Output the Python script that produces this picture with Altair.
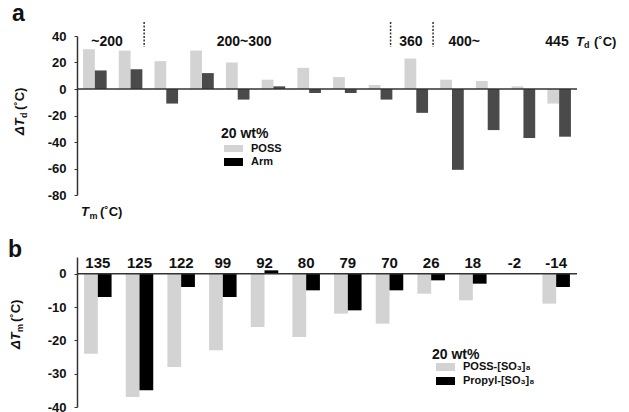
import altair as alt
import pandas as pd

FONT = "Liberation Sans"
TXT = "#111111"
AX = "#333333"

# ---------------- Panel a data ----------------
td_groups = list(range(14))
poss_a = [30, 29, 21, 29, 20, 7, 16, 9, 3, 23, 7, 6, 2, -11]
arm_a = [14, 15, -11, 12, -8, 2, -3, -3, -8, -18, -61, -31, -37, -36]
series_a = ["POSS", "Arm"]
colors_a = ["#d3d3d3", "#4a4a4a"]
legend_swatch_a = ["#d3d3d3", "#000000"]
yticks_a = [-80, -60, -40, -20, 0, 20, 40]

region_labels = ["~200", "200~300", "360", "400~", "445"]
region_pos = [0.34, 4.18, 8.85, 10.34, 12.94]
divider_pos = [1.38, 8.28, 9.47]

# ---------------- Panel b data ----------------
tm_groups = list(range(12))
tm_labels = ["135", "125", "122", "99", "92", "80", "79", "70", "26", "18", "-2", "-14"]
poss_b = [-24, -37, -28, -23, -16, -19, -12, -15, -6, -8, 0, -9]
propyl_b = [-7, -35, -4, -7, 1, -5, -11, -5, -2, -3, 0, -4]
series_b = ["POSS-[SO\u2083]\u2088", "Propyl-[SO\u2083]\u2088"]
colors_b = ["#d3d3d3", "#000000"]
yticks_b = [-40, -30, -20, -10, 0]

BAR_W = 0.33  # fraction of one group step per bar


def label(text, x, y, size, weight="bold", style="normal", angle=0,
          align="left", baseline="alphabetic"):
    return alt.Chart(pd.DataFrame({"t": [text]})).mark_text(
        align=align, baseline=baseline, font=FONT, fontSize=size,
        fontWeight=weight, fontStyle=style, angle=angle, color=TXT
    ).encode(text="t:N", x=alt.value(x), y=alt.value(y))


def swatch(color, x, x2, y, y2):
    return alt.Chart(pd.DataFrame({"s": [0]})).mark_rect(color=color).encode(
        x=alt.value(x), x2=alt.value(x2), y=alt.value(y), y2=alt.value(y2))


def yaxis(values):
    return alt.Axis(values=values, title=None, grid=False, domainColor=AX,
                    domainWidth=1.5, tickColor=AX, tickSize=3, tickWidth=1,
                    labelFont=FONT, labelFontSize=13, labelFontWeight="bold",
                    labelColor=TXT, labelPadding=8, labelOverlap=False,
                    labelExpr="datum.value + ''")


def xscale(n):
    return alt.Scale(domain=[-0.5, n - 0.5], nice=False, zero=False)


def grouped_bars(groups, s1, s2, names, colors, dom, ticks):
    n = len(groups)
    df = pd.DataFrame({"idx": groups * 2,
                       "series": [names[0]] * n + [names[1]] * n,
                       "value": s1 + s2})
    return alt.Chart(df).transform_calculate(
        x0=f"datum.idx + (datum.series == '{names[0]}' ? -{BAR_W} : 0)",
        x1=f"datum.idx + (datum.series == '{names[0]}' ? 0 : {BAR_W})",
    ).mark_bar().encode(
        x=alt.X("x0:Q", axis=None, scale=xscale(n)),
        x2="x1:Q",
        y=alt.Y("value:Q", scale=alt.Scale(domain=dom, nice=False, zero=False),
                axis=yaxis(ticks)),
        y2=alt.datum(0),
        color=alt.Color("series:N", sort=names,
                        scale=alt.Scale(domain=names, range=colors), legend=None),
    )


def zero_rule(ticks):
    return alt.Chart(pd.DataFrame({"v": [0]})).mark_rule(
        color=AX, strokeWidth=1.5).encode(y=alt.Y("v:Q", axis=yaxis(ticks)))


# ---------------- Panel a ----------------
bars_a = grouped_bars(td_groups, poss_a, arm_a, series_a, colors_a,
                      [-80, 40], yticks_a)

dividers = alt.Chart(pd.DataFrame({"pos": divider_pos})).mark_rule(
    color=AX, strokeWidth=1.5, strokeDash=[2, 1.5]).encode(
    x=alt.X("pos:Q", scale=xscale(14), axis=None),
    y=alt.value(-14), y2=alt.value(11))
regions = alt.Chart(pd.DataFrame({"pos": region_pos, "t": region_labels})).mark_text(
    align="center", baseline="alphabetic", font=FONT, fontSize=14,
    fontWeight="bold", color=TXT).encode(
    x=alt.X("pos:Q", scale=xscale(14), axis=None), y=alt.value(10), text="t:N")

panel_a = alt.layer(
    bars_a, zero_rule(yticks_a), dividers, regions,
    label("a", -65, -15, 23),
    # y title  ΔTd (˚C)
    label("\u0394T", -53.5, 99, 13, style="italic", angle=270),
    label("d", -50.5, 82, 9, angle=270),
    label("(\u02daC)", -53.5, 74, 13, angle=270),
    # Td (˚C) on the right
    label("T", 499, 9.5, 13, style="italic"),
    label("d", 507, 12, 9),
    label("(\u02daC)", 517, 9.5, 13),
    # Tm (˚C) bottom left
    label("T", 4, 180, 13, style="italic"),
    label("m", 12.5, 183, 9),
    label("(\u02daC)", 23, 180, 13),
    # legend
    label("20 wt%", 144, 102, 14),
    swatch(legend_swatch_a[0], 147, 166, 109, 116),
    swatch(legend_swatch_a[1], 147, 166, 122, 130),
    label(series_a[0], 174, 112.5, 11, baseline="middle"),
    label(series_a[1], 174, 126, 11, baseline="middle"),
).properties(width=500, height=159)

# ---------------- Panel b ----------------
bars_b = grouped_bars(tm_groups, poss_b, propyl_b, series_b, colors_b,
                      [-40, 5], yticks_b)

toplabels = alt.Chart(pd.DataFrame({"idx": tm_groups, "t": tm_labels})).mark_text(
    align="center", baseline="alphabetic", font=FONT, fontSize=15,
    fontWeight="bold", color=TXT).encode(
    x=alt.X("idx:Q", axis=None, scale=xscale(12)), y=alt.value(11), text="t:N")

panel_b = alt.layer(
    bars_b, zero_rule(yticks_b), toplabels,
    label("b", -69, 0, 23),
    label("\u0394T", -57.5, 92, 13, style="italic", angle=270),
    label("m", -54.5, 75, 9, angle=270),
    label("(\u02daC)", -57.5, 65, 13, angle=270),
    label("20 wt%", 355, 102, 14),
    swatch(colors_b[0], 359, 378, 106, 114),
    swatch(colors_b[1], 359, 378, 120, 128),
    label(series_b[0], 386, 110, 11, baseline="middle"),
    label(series_b[1], 386, 124, 11, baseline="middle"),
).properties(width=500, height=150)

chart = alt.concat(panel_a, panel_b, columns=1, spacing=18, align="none").properties(
    padding={"left": 0, "top": -5, "right": 0, "bottom": 0},
    background="white",
).resolve_scale(color="independent").configure_view(stroke=None)

chart.save("out.html", embed_options={"renderer": "svg", "actions": False})
